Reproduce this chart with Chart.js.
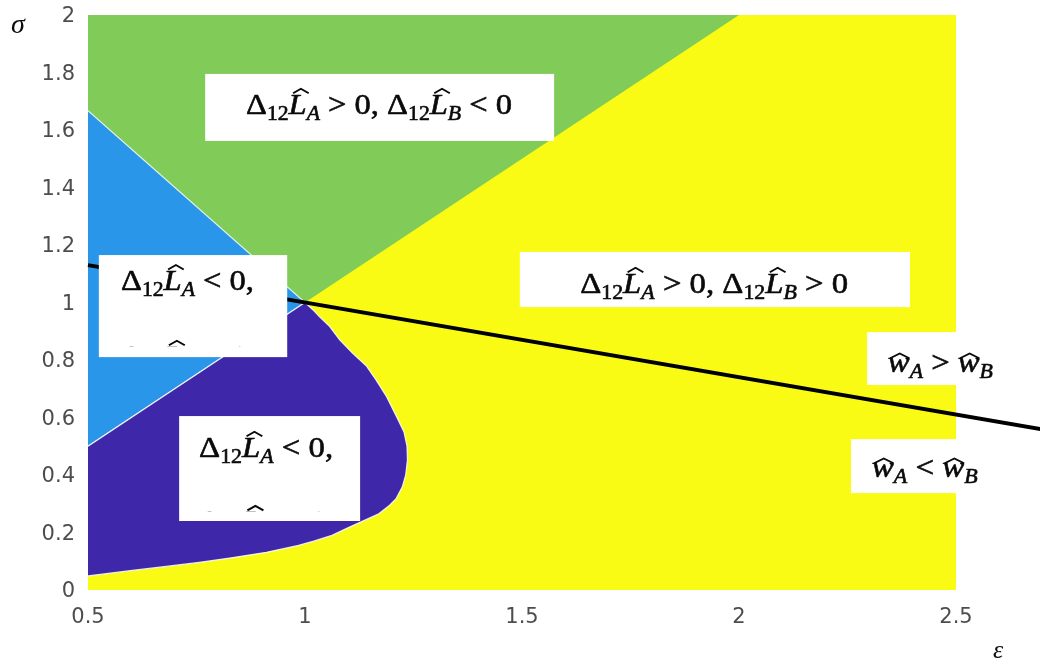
<!DOCTYPE html>
<html><head><meta charset="utf-8">
<script src="https://cdn.jsdelivr.net/npm/chart.js@4.4.1/dist/chart.umd.min.js"></script>
<style>html,body{margin:0;padding:0;background:#fff}#wrap{width:1040px;height:661px}</style>
</head><body><div id="wrap"><canvas id="c" width="1040" height="661"></canvas></div>
<script>
// ---- tick values / labels ----
const xTicks = [0.5, 1, 1.5, 2, 2.5];
const xTickLabels = ['0.5', '1', '1.5', '2', '2.5'];
const yTicks = [0, 0.2, 0.4, 0.6, 0.8, 1, 1.2, 1.4, 1.6, 1.8, 2];
const yTickLabels = ['0', '0.2', '0.4', '0.6', '0.8', '1', '1.2', '1.4', '1.6', '1.8', '2'];

// ---- region boundaries (epsilon, sigma) ----
const yellowRegionX = [0.5, 2.5, 2.5, 0.5];
const yellowRegionY = [0, 0, 2, 2];
const greenRegionX = [0.5, 0.5, 1.0, 2.0];
const greenRegionY = [2.0, 1.667, 1.0, 2.0];
const blueRegionX = [0.5, 1.0, 0.5];
const blueRegionY = [1.667, 1.0, 0.5];
const darkRegionX = [0.5, 1.0, 1.018, 1.033, 1.057, 1.080, 1.110, 1.141, 1.164, 1.188, 1.211, 1.228, 1.235, 1.236, 1.232, 1.224, 1.210, 1.195, 1.170, 1.138, 1.100, 1.062, 1.020, 0.985, 0.911, 0.830, 0.756, 0.680, 0.602, 0.5];
const darkRegionY = [0.5, 1.0, 0.975, 0.951, 0.916, 0.870, 0.823, 0.780, 0.730, 0.672, 0.603, 0.550, 0.500, 0.452, 0.400, 0.358, 0.318, 0.295, 0.265, 0.243, 0.217, 0.190, 0.170, 0.155, 0.131, 0.112, 0.096, 0.082, 0.068, 0.049];
// black line (w_A = w_B)
const lineX = [0.5, 2.7];
const lineY = [1.13, 0.558];

// ---- colours ----
const C_YELLOW = '#F9FB15';
const C_GREEN = '#81CC59';
const C_BLUE = '#2A96E9';
const C_DARK = '#3E27A8';

const pts = (xs, ys) => xs.map((x, i) => ({ x: x, y: ys[i] }));
function region(xs, ys, color, border, bw, order) {
  return {
    data: pts(xs, ys), fill: 'shape', backgroundColor: color,
    borderColor: border || 'rgba(0,0,0,0)', borderWidth: bw || 1,
    pointRadius: 0, pointHoverRadius: 0, tension: 0, clip: 0, order: order
  };
}

// ---- annotation layout (data coordinates) ----
const boxes = [
  { x1: 0.770, x2: 1.574, y1: 1.795, y2: 1.562 },
  { x1: 1.495, x2: 2.394, y1: 1.176, y2: 0.984 },
  { x1: 0.525, x2: 0.959, y1: 1.165, y2: 0.810 },
  { x1: 0.710, x2: 1.127, y1: 0.605, y2: 0.240 },
  { x1: 2.295, x2: 2.640, y1: 0.897, y2: 0.713 },
  { x1: 2.258, x2: 2.620, y1: 0.525, y2: 0.337 }
];
const dLA = [['Δ', 'r'], ['12', 'rs'], ['L', 'hL'], ['A', 'is']];
const dLB = [['Δ', 'r'], ['12', 'rs'], ['L', 'hL'], ['B', 'is']];
const texts = [
  { segs: [...dLA, [' > 0, ', 'r'], ...dLB, [' < 0', 'r']], x: 0.864, y: 1.656, w: 266 },
  { segs: [...dLA, [' > 0, ', 'r'], ...dLB, [' > 0', 'r']], x: 1.634, y: 1.033, w: 268 },
  { segs: [...dLA, [' < 0,', 'r']], x: 0.576, y: 1.043, w: 133 },
  { segs: [...dLB, [' > 0', 'r']], x: 0.576, y: 0.779, w: 127, clipY: 0.845 },
  { segs: [...dLA, [' < 0,', 'r']], x: 0.756, y: 0.463, w: 134 },
  { segs: [...dLB, [' < 0', 'r']], x: 0.756, y: 0.205, w: 128, clipY: 0.271 },
  { segs: [['w', 'hw'], ['A', 'is'], [' > ', 'r'], ['w', 'hw'], ['B', 'is']], x: 2.343, y: 0.758, w: 105 },
  { segs: [['w', 'hw'], ['A', 'is'], [' < ', 'r'], ['w', 'hw'], ['B', 'is']], x: 2.306, y: 0.393, w: 106 }
];

const SERIF = '"Liberation Serif", "DejaVu Serif", serif';
const FS = 30;
function fontFor(k) {
  if (k === 'r') return FS + 'px ' + SERIF;
  if (k === 'rs') return Math.round(FS * 0.68) + 'px ' + SERIF;
  if (k === 'is') return 'italic ' + Math.round(FS * 0.68) + 'px ' + SERIF;
  return 'italic ' + FS + 'px ' + SERIF;
}
function drawMath(ctx, segs, x, y, targetW) {
  let W = 0;
  const ms = segs.map(([t, k]) => { ctx.font = fontFor(k); const w = ctx.measureText(t).width; W += w; return w; });
  const sx = targetW / W;
  ctx.save();
  ctx.translate(x, y);
  ctx.scale(sx, 1);
  ctx.fillStyle = '#0a0a0a';
  ctx.strokeStyle = '#0a0a0a';
  ctx.textBaseline = 'alphabetic';
  ctx.textAlign = 'left';
  let cx = 0;
  segs.forEach(([t, k], i) => {
    ctx.font = fontFor(k);
    const dy = (k === 'rs' || k === 'is') ? FS * 0.2 : 0;
    ctx.fillText(t, cx, dy);
    ctx.lineWidth = 0.6;
    ctx.strokeText(t, cx, dy);
    if (k === 'hL' || k === 'hw') {
      const gw = ms[i];
      let c, top, h, hw;
      if (k === 'hL') { c = cx + gw * 0.5 + FS * 0.1; top = -FS * 0.84; h = FS * 0.15; hw = FS * 0.24; }
      else { c = cx + gw * 0.5 + FS * 0.03; top = -FS * 0.62; h = FS * 0.16; hw = gw * 0.44; }
      ctx.beginPath();
      ctx.moveTo(c - hw, top + h);
      ctx.lineTo(c, top);
      ctx.lineTo(c + hw, top + h);
      ctx.lineWidth = FS * 0.06;
      ctx.lineJoin = 'miter';
      ctx.stroke();
    }
    cx += ms[i];
  });
  ctx.restore();
}

const annotPlugin = {
  id: 'annot',
  afterDatasetsDraw(chart) {
    const ctx = chart.ctx, xs = chart.scales.x, ys = chart.scales.y;
    ctx.save();
    ctx.fillStyle = '#ffffff';
    boxes.forEach(b => {
      const x1 = xs.getPixelForValue(b.x1), x2 = xs.getPixelForValue(b.x2);
      const y1 = ys.getPixelForValue(b.y1), y2 = ys.getPixelForValue(b.y2);
      ctx.fillRect(x1, y1, x2 - x1, y2 - y1);
    });
    texts.forEach(t => {
      const px = xs.getPixelForValue(t.x), py = ys.getPixelForValue(t.y);
      if (t.clipY !== undefined) {
        ctx.save();
        ctx.beginPath();
        ctx.rect(0, 0, chart.width, ys.getPixelForValue(t.clipY));
        ctx.clip();
        drawMath(ctx, t.segs, px, py, t.w);
        ctx.restore();
      } else {
        drawMath(ctx, t.segs, px, py, t.w);
      }
    });
    // axis symbols
    ctx.fillStyle = '#0a0a0a';
    ctx.textBaseline = 'alphabetic';
    ctx.textAlign = 'left';
    ctx.font = 'italic 28px ' + SERIF;
    ctx.fillText('σ', 11, 33);
    ctx.font = 'italic 26px ' + SERIF;
    ctx.fillText('ε', 993, 658);
    ctx.restore();
  }
};

new Chart(document.getElementById('c'), {
  type: 'line',
  data: {
    datasets: [
      { data: pts(lineX, lineY), borderColor: '#000000', borderWidth: 4, pointRadius: 0, pointHoverRadius: 0, fill: false, tension: 0, clip: false, order: 1 },
      region(darkRegionX, darkRegionY, C_DARK, 'rgba(255,255,255,0.85)', 1.2, 2),
      region(blueRegionX, blueRegionY, C_BLUE, 'rgba(255,255,255,0.8)', 1.1, 3),
      region(greenRegionX, greenRegionY, C_GREEN, null, 1, 4),
      region(yellowRegionX, yellowRegionY, C_YELLOW, null, 1, 5)
    ]
  },
  options: {
    responsive: false, animation: false, events: [],
    layout: { padding: { left: 0, right: 84, top: 15, bottom: 0 } },
    plugins: { legend: { display: false }, tooltip: { enabled: false } },
    scales: {
      x: {
        type: 'linear', min: 0.5, max: 2.5,
        grid: { display: false, drawTicks: false }, border: { display: false },
        afterBuildTicks: s => { s.ticks = xTicks.map(v => ({ value: v })); },
        afterFit: s => { s.height = 71; s.paddingLeft = 0; s.paddingRight = 0; },
        ticks: { padding: 15, color: '#4d4d4d', autoSkip: false, maxRotation: 0,
          font: { family: '"DejaVu Sans", sans-serif', size: 21 },
          callback: (v, i) => xTickLabels[i] }
      },
      y: {
        type: 'linear', min: 0, max: 2,
        grid: { display: false, drawTicks: false }, border: { display: false },
        afterBuildTicks: s => { s.ticks = yTicks.map(v => ({ value: v })); },
        afterFit: s => { s.width = 88; s.paddingTop = 0; s.paddingBottom = 0; },
        ticks: { padding: 13, labelOffset: 2, color: '#4d4d4d', autoSkip: false,
          font: { family: '"DejaVu Sans", sans-serif', size: 21 },
          callback: (v, i) => yTickLabels[i] }
      }
    }
  },
  plugins: [annotPlugin]
});
</script>
</body></html>
